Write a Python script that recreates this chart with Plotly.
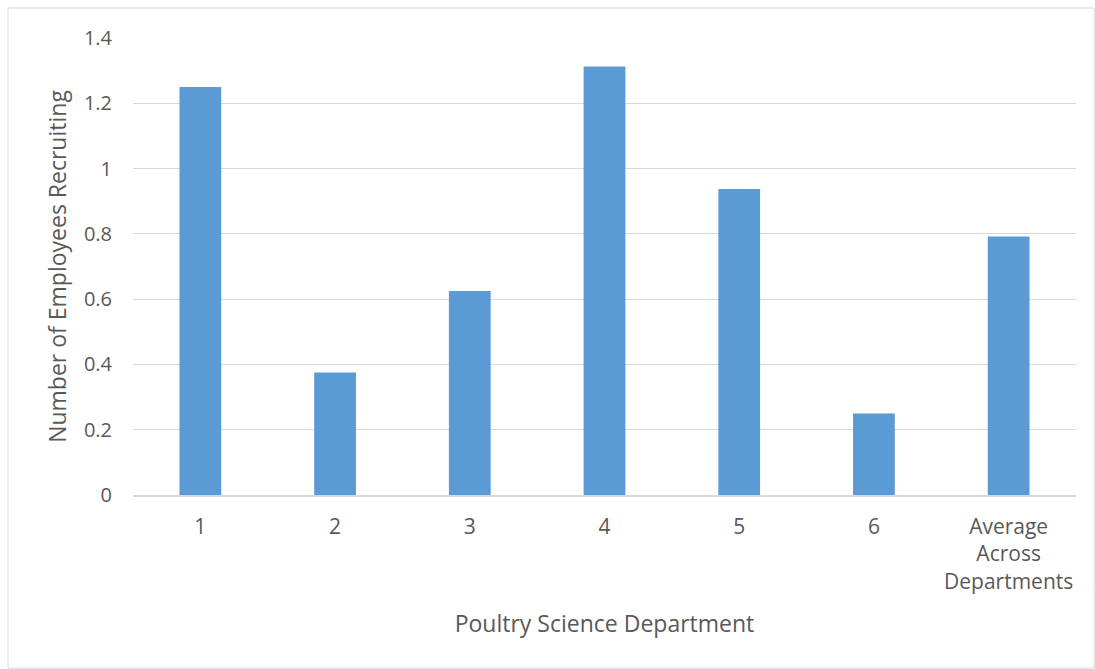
import plotly.graph_objects as go

categories = ["1", "2", "3", "4", "5", "6", "Average<br>Across<br>Departments"]
values = [1.25, 0.375, 0.625, 1.3125, 0.9375, 0.25, 0.7917]
y_ticks = [0, 0.2, 0.4, 0.6, 0.8, 1, 1.2, 1.4]
y_tick_text = ["0", "0.2", "0.4", "0.6", "0.8", "1", "1.2", "1.4"]

W, H = 1095, 669
L, R, T, B = 133, 19, 38, 174
pw, ph = W - L - R, H - T - B

fig = go.Figure(go.Bar(x=categories, y=values, marker=dict(color="#5B9BD5", line=dict(width=0)),
                       width=0.31))

grey = "#595959"
fig.update_layout(
    width=W, height=H,
    margin=dict(l=L, r=R, t=T, b=B),
    paper_bgcolor="white", plot_bgcolor="white",
    font=dict(family="Open Sans", color=grey, size=18),
    showlegend=False,
    xaxis=dict(title=dict(text="Poultry Science Department", font=dict(size=23, color=grey), standoff=22),
               showline=True, linecolor="#D9D9D9", linewidth=1.5, ticks="", tickfont=dict(size=21, color=grey),
               ticklabelstandoff=12, showgrid=False),
    yaxis=dict(title=dict(text="Number of Employees Recruiting", font=dict(size=23, color=grey), standoff=10),
               range=[0, 1.4], tickvals=y_ticks, ticktext=y_tick_text, showgrid=True, gridcolor="#D9D9D9",
               gridwidth=1, zeroline=False, ticks="", tickfont=dict(size=20, color=grey),
               ticklabelstandoff=20),
    shapes=[dict(type="rect", xref="paper", yref="paper",
                 x0=(8 - L) / pw, x1=(W - 1 - L) / pw,
                 y0=(H - T - B - (H - 1 - T)) / ph, y1=(H - B - 8) / ph,
                 line=dict(color="#D9D9D9", width=1), fillcolor="rgba(0,0,0,0)", layer="below")],
)
fig.write_html("out.html")
